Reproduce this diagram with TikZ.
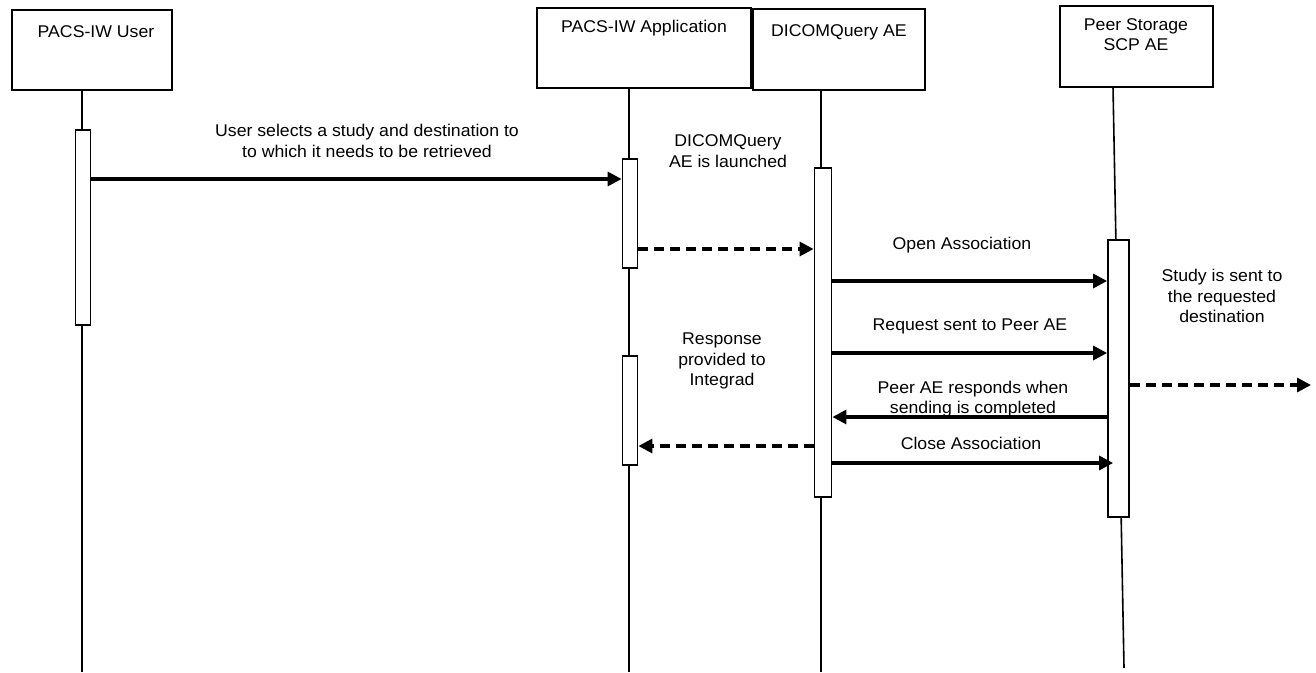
\documentclass[tikz,border=0pt]{standalone}
\usepackage{fontspec}
\setmainfont[FakeStretch=1.04]{Liberation Sans}
\usetikzlibrary{arrows.meta}
\begin{document}
\begin{tikzpicture}[x=1pt,y=-1pt,
  actor/.style={draw, line width=2pt, inner sep=0pt},
  title/.style={anchor=north, align=center, inner sep=0pt, font=\fontsize{17}{20.5}\selectfont},
  bar/.style={draw, line width=1.8pt, fill=white, inner sep=0pt, minimum width=15pt},
  life/.style={line width=1.6pt},
  msg/.style={line width=3.2pt, -{Triangle[length=14pt,width=14pt]}},
  ret/.style={msg, dash pattern=on 10pt off 6pt},
  lbl/.style={align=center, inner sep=0pt, font=\fontsize{17}{20.5}\selectfont}]
\useasboundingbox (0,0) rectangle (1316,672);
% actor boxes
\node[actor, minimum width=160pt, minimum height=80pt] (u) at (92,50) {};
\node[title] (ut) at (96,25) {PACS-IW User};
\node[actor, minimum width=214pt, minimum height=80pt] (a) at (644,48) {};
\node[title] (at) at (644,20) {PACS-IW Application};
\node[actor, minimum width=172pt, minimum height=81pt] (d) at (839,49.5) {};
\node[title] (dt) at (839,24) {DICOMQuery AE};
\node[actor, minimum width=153pt, minimum height=81pt] (p) at (1136.5,46.5) {};
\node[title] (pt) at (1136,18) {Peer Storage\\SCP AE};
% lifeline ends
\coordinate (ue) at (82,672);
\coordinate (ae) at (629,672);
\coordinate (de) at (821,672);
\coordinate (pe) at (1124,668);
\coordinate (ps) at (1113,87);
\draw[life] (u.south -| ue) -- (ue);
\draw[life] (a.south -| ae) -- (ae);
\draw[life] (d.south -| de) -- (de);
\draw[life] (ps) -- (pe);
% activation bars
\node[bar, minimum height=195pt] (ub) at (83,227.5) {};
\node[bar, minimum height=109pt] (ab1) at (630,213.5) {};
\node[bar, minimum height=109pt] (ab2) at (630,410.5) {};
\node[bar, minimum width=17pt, minimum height=329pt] (db) at (823,332.5) {};
\node[bar, minimum width=21pt, minimum height=277pt] (pb) at (1118.5,378.5) {};
% message levels
\coordinate (y1) at (0,179);
\coordinate (y2) at (0,249);
\coordinate (y3) at (0,281);
\coordinate (y4) at (0,353);
\coordinate (y5) at (0,385);
\coordinate (y6) at (0,417);
\coordinate (y7) at (0,446);
\coordinate (y8) at (0,463);
\coordinate (far) at (1311,385);
% messages
\draw[msg] (ub.east |- y1) -- (ab1.west |- y1);
\draw[ret] (ab1.east |- y2) -- (db.west |- y2);
\draw[msg] (db.east |- y3) -- (pb.west |- y3);
\draw[msg] (db.east |- y4) -- (pb.west |- y4);
\draw[msg] (pb.west |- y6) -- (db.east |- y6);
\draw[msg] (db.east |- y8) -- ([xshift=6pt]pb.west |- y8);
\draw[ret] (db.west |- y7) -- (ab2.east |- y7);
\draw[ret] (pb.east |- y5) -- (far);
% labels
\node[lbl] (l1) at (367,141) {User selects a study and destination to\\to which it needs to be retrieved};
\node[lbl] (l2) at (728,151) {DICOMQuery\\AE is launched};
\node[lbl] (l3) at (962,245) {Open Association};
\node[lbl] (l4) at (970,326) {Request sent to Peer AE};
\node[lbl] (l5) at (973,399) {Peer AE responds when\\sending is completed};
\node[lbl] (l6) at (971,443) {Close Association};
\node[lbl] (l7) at (722,361) {Response\\provided to\\Integrad};
\node[lbl] (l8) at (1222,296) {Study is sent to\\the requested\\destination};
\end{tikzpicture}
\end{document}
